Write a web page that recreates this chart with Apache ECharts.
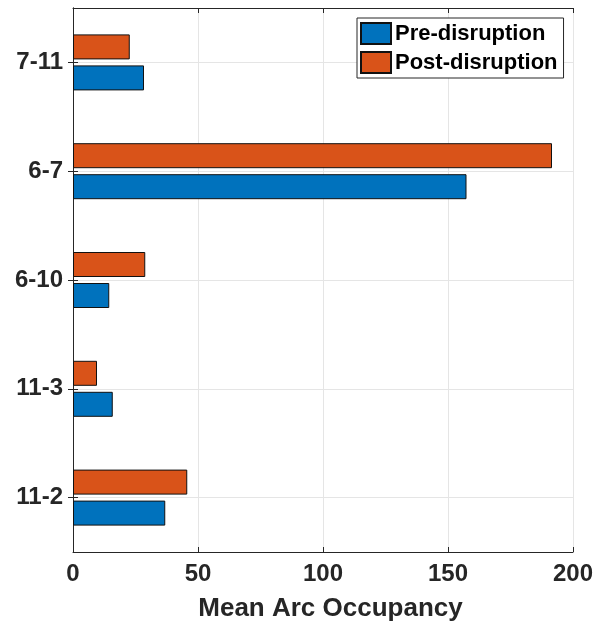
<!DOCTYPE html>
<html>
<head>
<meta charset="utf-8">
<script src="https://cdn.jsdelivr.net/npm/echarts@6/dist/echarts.min.js"></script>
<style>
  html, body { margin: 0; padding: 0; background: #fff; }
  #chart { width: 608px; height: 628px; }
</style>
</head>
<body>
<div id="chart"></div>
<script>
// Arc labels, listed from the bottom of the axis to the top
const arcs = ['11-2', '11-3', '6-10', '6-7', '7-11'];
// Mean arc occupancy for each arc
const preDisruption = [36.9, 15.9, 14.5, 157.4, 28.4];
const postDisruption = [45.7, 9.6, 28.9, 191.6, 22.7];
const xTicks = { min: 0, max: 200, step: 50 };

const FONT = 'Liberation Sans, Arial, Helvetica, sans-serif';
const INK = '#262626';
const GRID = '#e5e5e5';

const chart = echarts.init(document.getElementById('chart'), null, { renderer: 'canvas' });

const valueAxisBase = {
  type: 'value',
  min: xTicks.min,
  max: xTicks.max,
  interval: xTicks.step,
  axisLine: { show: true, lineStyle: { color: INK, width: 1 } },
  axisTick: { show: true, inside: true, length: 5, lineStyle: { color: INK } }
};

const catAxisBase = {
  type: 'category',
  data: arcs,
  axisLine: { show: true, lineStyle: { color: INK, width: 1 } },
  axisTick: { show: true, inside: true, length: 5, alignWithLabel: true, lineStyle: { color: INK } }
};

chart.setOption({
  animation: false,
  backgroundColor: '#fff',
  grid: { left: 73, right: 35, top: 8, bottom: 76, containLabel: false, outerBoundsMode: 'none' },
  legend: {
    data: ['Pre-disruption', 'Post-disruption'],
    orient: 'vertical',
    left: 357,
    top: 18,
    padding: [4, 6, 4, 3],
    itemGap: 6,
    itemWidth: 30,
    itemHeight: 21,
    backgroundColor: '#fff',
    borderColor: INK,
    borderWidth: 1,
    borderRadius: 0,
    icon: 'rect',
    textStyle: { fontFamily: FONT, fontWeight: 'bold', fontSize: 22, lineHeight: 22, color: '#000', padding: [0, 0, 0, -1] }
  },
  xAxis: [
    Object.assign({}, valueAxisBase, {
      position: 'bottom',
      name: 'Mean Arc Occupancy',
      nameLocation: 'middle',
      nameGap: 44,
      nameTextStyle: { fontFamily: FONT, fontWeight: 'bold', fontSize: 26, color: INK, padding: [0, 0, 0, 15] },
      axisLabel: { fontFamily: FONT, fontWeight: 'bold', fontSize: 24, color: INK, margin: 10 },
      splitLine: { show: true, lineStyle: { color: GRID, width: 1 } }
    }),
    Object.assign({}, valueAxisBase, {
      position: 'top',
      axisLabel: { show: false },
      splitLine: { show: false }
    })
  ],
  yAxis: [
    Object.assign({}, catAxisBase, {
      position: 'left',
      axisLabel: { fontFamily: FONT, fontWeight: 'bold', fontSize: 24, color: INK, margin: 10 },
      splitLine: { show: true, alignWithLabel: true, lineStyle: { color: GRID, width: 1 } }
    }),
    Object.assign({}, catAxisBase, {
      position: 'right',
      axisLabel: { show: false },
      splitLine: { show: false }
    })
  ],
  // Post-disruption is listed first so that it sits above Pre-disruption in each group
  series: [
    {
      name: 'Post-disruption',
      type: 'bar',
      data: postDisruption,
      barWidth: 25,
      barGap: '24%',
      itemStyle: { color: '#D95319', borderColor: '#111', borderWidth: 1 }
    },
    {
      name: 'Pre-disruption',
      type: 'bar',
      data: preDisruption,
      barWidth: 25,
      barGap: '24%',
      itemStyle: { color: '#0072BD', borderColor: '#111', borderWidth: 1 }
    }
  ]
});
</script>
</body>
</html>
